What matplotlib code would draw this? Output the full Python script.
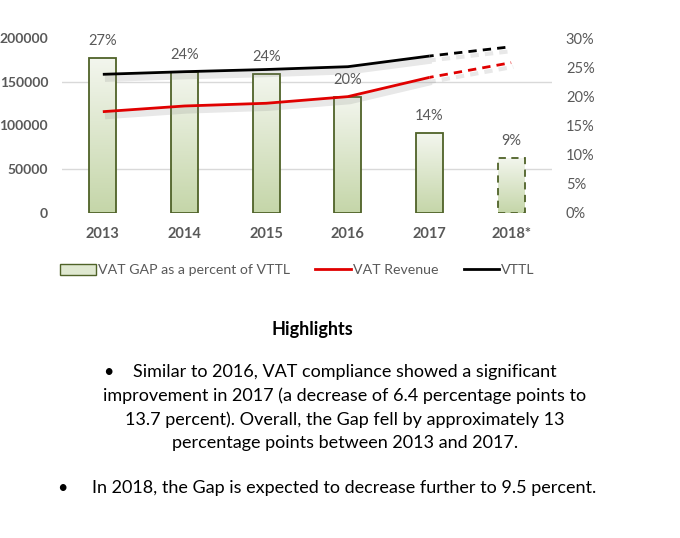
import numpy as np
import matplotlib
matplotlib.use("Agg")
from matplotlib import pyplot as plt
from matplotlib import patheffects as pe
from matplotlib.patches import Patch
from matplotlib.lines import Line2D
from matplotlib.colors import LinearSegmentedColormap

years = ["2013", "2014", "2015", "2016", "2017", "2018*"]
gap_pct = [26.6, 24.2, 23.9, 19.9, 13.7, 9.5]
gap_labels = ["27%", "24%", "24%", "20%", "14%", "9%"]
vttl = [158500, 161500, 164000, 167200, 179400, 190000]
vat_revenue = [115800, 122300, 125400, 133000, 155000, 171800]

plt.rcParams["font.family"] = ["Lato", "DejaVu Sans"]
grey = "#595959"
edge = "#4f6228"

fig = plt.figure(figsize=(6.8, 5.38), dpi=100)
ax = fig.add_axes([62 / 680, 1 - 213 / 538, 490 / 680, 175 / 538])
ax2 = ax.twinx()
ax.set_zorder(ax2.get_zorder() + 1)
ax.patch.set_visible(False)

x = np.arange(len(years))

# bars (percent, right axis) - light at the top, greener at the bottom
cmap = LinearSegmentedColormap.from_list("g", ["#f3f6ee", "#c5d6a9"])
bars = ax2.bar(x, gap_pct, width=0.33, facecolor="none", edgecolor=edge, linewidth=1.3, zorder=3)
bars[-1].set_linestyle((0, (4, 3)))
grad = np.linspace(0, 1, 100).reshape(-1, 1)
for b in bars:
    x0, y0 = b.get_x(), b.get_y()
    im = ax2.imshow(grad, cmap=cmap, aspect="auto", zorder=2, origin="upper",
                    extent=[x0, x0 + b.get_width(), y0, y0 + b.get_height()])
    im.set_clip_path(b)
for xi, v, lab in zip(x, gap_pct, gap_labels):
    ax2.annotate(lab, (xi, v), xytext=(0, 7), textcoords="offset points",
                 ha="center", va="bottom", fontsize=10.5, color=grey)

# lines (left axis), solid up to 2017 and dashed for the 2018 estimate
shadow = [pe.SimpleLineShadow(offset=(1.5, -3), shadow_color="grey", alpha=0.18, linewidth=5), pe.Normal()]
shadow_d = [pe.SimpleLineShadow(offset=(1.5, -3), shadow_color="grey", alpha=0.18, linewidth=3), pe.Normal()]
for vals, col in [(vttl, "black"), (vat_revenue, "#e00000")]:
    ax.plot(x[:5], vals[:5], color=col, lw=2, path_effects=shadow, solid_capstyle="butt")
    ax.plot(x[4:], vals[4:], color=col, lw=2, ls=(1.5, (3, 2.2)), path_effects=shadow_d)

ax.set_xlim(-0.5, 5.5)
ax.set_ylim(0, 200000)
ax2.set_ylim(0, 30)
ax.set_yticks([0, 50000, 100000, 150000, 200000])
ax.set_yticklabels(["0", "50000", "100000", "150000", "200000"])
ax2.set_yticks(np.arange(0, 31, 5))
ax2.set_yticklabels([f"{v}%" for v in range(0, 31, 5)])
ax2.set_yticks([0, 7.5, 15, 22.5, 30], minor=True)
ax2.grid(True, which="minor", axis="y", color="#d9d9d9", lw=1, zorder=0)
ax2.tick_params(which="minor", length=0)
ax.set_xticks(x)
ax.set_xticklabels(years)

for a in (ax, ax2):
    for s in a.spines.values():
        s.set_visible(False)
ax.tick_params(axis="y", length=0, pad=10, labelsize=10, labelcolor=grey)
ax.tick_params(axis="x", length=0, pad=10, labelsize=10.5, labelcolor=grey)
ax2.tick_params(axis="y", which="major", length=0, pad=10, labelsize=10.5, labelcolor=grey)
for t in ax.get_yticklabels() + ax.get_xticklabels():
    t.set_fontweight("bold")

handles = [
    Patch(facecolor="#dfe8d0", edgecolor=edge, label="VAT GAP as a percent of VTTL"),
    Line2D([], [], color="#e00000", lw=2, label="VAT Revenue"),
    Line2D([], [], color="black", lw=2, label="VTTL"),
]
fig.legend(handles=handles, loc="center left", bbox_to_anchor=(53 / 680, 1 - 270 / 538), ncol=3,
           frameon=False, fontsize=10.2, labelcolor=grey, handlelength=2.5, handleheight=0.8,
           handletextpad=0.15, columnspacing=1.8, borderpad=0)

# highlights text
fig.text(312 / 680, 1 - 330 / 538, "Highlights", ha="center", va="center", fontsize=13, fontweight="bold")
para = ["Similar to 2016, VAT compliance showed a significant",
        "improvement in 2017 (a decrease of 6.4 percentage points to",
        "13.7 percent). Overall, the Gap fell by approximately 13",
        "percentage points between 2013 and 2017."]
for i, line in enumerate(para):
    fig.text(345 / 680, 1 - (372 + 23.7 * i) / 538, line, ha="center", va="center", fontsize=13)
fig.text(108 / 680, 1 - 372 / 538, "\u2022", ha="center", va="center", fontsize=13)
fig.text(62 / 680, 1 - 488 / 538, "\u2022", ha="center", va="center", fontsize=13)
fig.text(92 / 680, 1 - 488 / 538, "In 2018, the Gap is expected to decrease further to 9.5 percent.",
         ha="left", va="center", fontsize=13)

fig.savefig("out.png", dpi=100)
